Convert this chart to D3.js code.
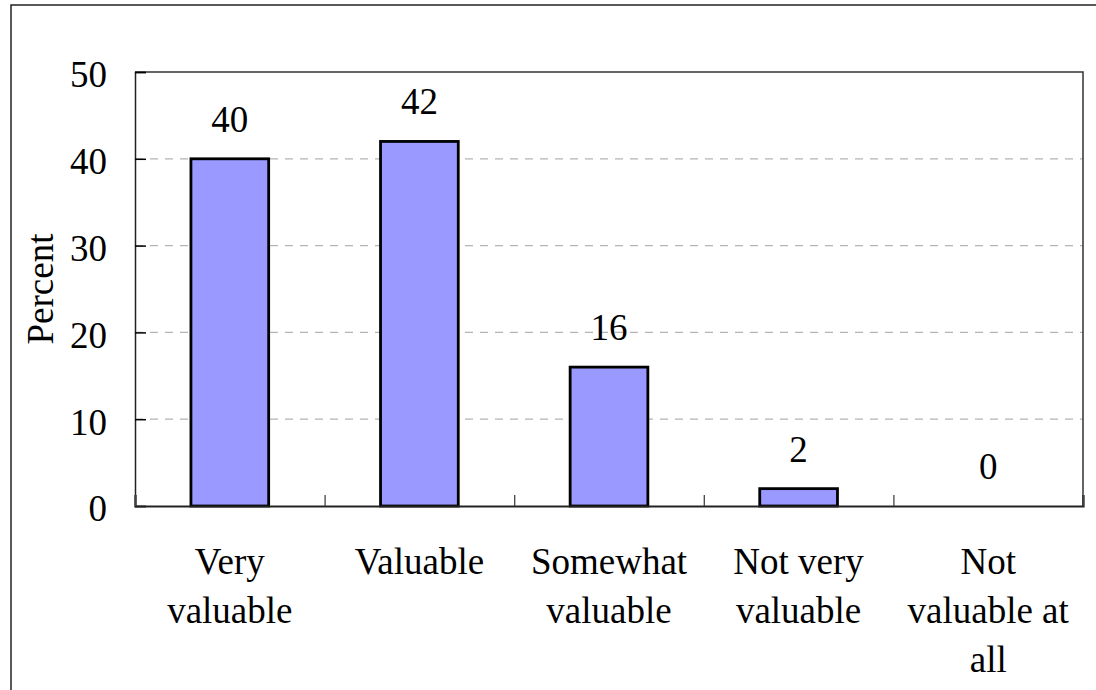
<!DOCTYPE html>
<html><head><meta charset="utf-8">
<script src="https://cdn.jsdelivr.net/npm/d3@7"></script>
<style>body{margin:0;background:#fff}svg{display:block}text{font-family:"Liberation Serif","Times New Roman",serif;fill:#000}</style>
</head><body><svg id="c" width="1096" height="690"></svg>
<script>
const categories = [["Very","valuable"],["Valuable"],["Somewhat","valuable"],["Not very","valuable"],["Not","valuable at","all"]];
const values = [40, 42, 16, 2, 0];
const yTicks = [0, 10, 20, 30, 40, 50];
const yTitle = "Percent";

const svg = d3.select("#c");
const m = {l:135, t:72, r:1083, b:506};
const FS = 37;
svg.append("rect").attr("x",11).attr("y",5).attr("width",1200).attr("height",800)
  .attr("fill","none").attr("stroke","#222").attr("stroke-width",1.5);

const x = d3.scaleBand().domain(d3.range(values.length)).range([m.l, m.r]).paddingInner(0.59).paddingOuter(0.295);
const xb = d3.scaleLinear().domain([0, values.length]).range([m.l, m.r]);
const y = d3.scaleLinear().domain([0, 50]).range([m.b, m.t]);

// gridlines
svg.append("g").selectAll("line").data(yTicks.filter(d=>d>0 && d<50)).join("line")
  .attr("x1",m.l).attr("x2",m.r).attr("y1",d=>y(d)).attr("y2",d=>y(d))
  .attr("stroke","#b4b4b4").attr("stroke-width",1.3).attr("stroke-dasharray","8,7");

// plot frame top/right
svg.append("path").attr("d",`M${m.l},${m.t}H${m.r}V${m.b}`).attr("fill","none").attr("stroke","#333").attr("stroke-width",1.5);

// bars
svg.append("g").selectAll("rect").data(values).join("rect")
  .attr("x",(d,i)=>x(i)).attr("width",x.bandwidth())
  .attr("y",d=>y(d)).attr("height",d=>y(0)-y(d))
  .attr("fill","#9999ff").attr("stroke","#000").attr("stroke-width",2.8);

// y axis
const ya = d3.axisLeft(y).tickValues(yTicks).tickSize(-11).tickPadding(28).tickFormat(d3.format("d"));
const gy = svg.append("g").attr("transform",`translate(${m.l},0)`).call(ya);
gy.select(".domain").attr("stroke","#222").attr("stroke-width",1.5);
gy.selectAll(".tick line").attr("stroke","#000").attr("stroke-width",1.5);
gy.selectAll(".tick text").attr("font-size",FS).attr("dy","0.4em");

// x axis
const xa = d3.axisBottom(xb).tickValues(d3.range(values.length+1)).tickSize(-11).tickFormat("");
const gx = svg.append("g").attr("transform",`translate(0,${m.b})`).call(xa);
gx.select(".domain").attr("stroke","#222").attr("stroke-width",2.2);
gx.selectAll(".tick line").attr("stroke","#444").attr("stroke-width",1.3);

// category labels
const cl = svg.append("g").selectAll("text").data(categories).join("text")
  .attr("text-anchor","middle").attr("font-size",FS)
  .attr("x",(d,i)=>x(i)+x.bandwidth()/2);
cl.selectAll("tspan").data(d=>d).join("tspan")
  .attr("x",function(){return this.parentNode.getAttribute("x");})
  .attr("y",(d,j)=>574+j*49).text(d=>d);

// value labels
svg.append("g").selectAll("text").data(values).join("text")
  .attr("text-anchor","middle").attr("font-size",FS)
  .attr("x",(d,i)=>x(i)+x.bandwidth()/2).attr("y",d=>y(d)-27).text(d=>d);

// y title
svg.append("text").attr("transform",`translate(53,${(m.t+m.b)/2}) rotate(-90)`)
  .attr("text-anchor","middle").attr("font-size",FS).text(yTitle);
</script></body></html>
